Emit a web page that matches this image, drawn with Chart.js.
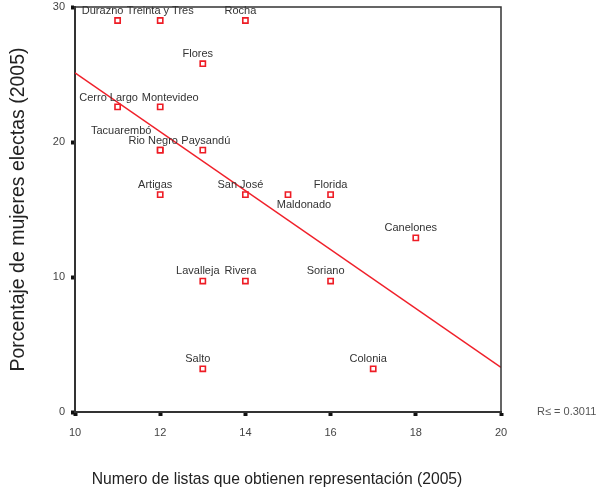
<!DOCTYPE html>
<html>
<head>
<meta charset="utf-8">
<script src="https://cdn.jsdelivr.net/npm/chart.js@4/dist/chart.umd.min.js"></script>
<style>
  body { margin: 0; background: #fff; }
  #wrap { width: 599px; height: 491px; }
</style>
</head>
<body>
<div id="wrap"><canvas id="chart" width="599" height="491"></canvas></div>
<script>
// Departamentos, listas con representación y % de mujeres electas (2005)
const departamentos = ['Durazno', 'Treinta y Tres', 'Rocha', 'Flores', 'Cerro Largo', 'Montevideo',
  'Tacuarembó', 'Rio Negro', 'Paysandú', 'Artigas', 'San José', 'Maldonado', 'Florida',
  'Canelones', 'Lavalleja', 'Rivera', 'Soriano', 'Salto', 'Colonia'];
const listas = [11, 12, 14, 13, 11, 12, 12, 12, 13, 12, 14, 15, 16, 18, 13, 14, 16, 13, 17];
const mujeres = [29.0, 29.0, 29.0, 25.8, 22.6, 22.6, 19.4, 19.4, 19.4, 16.1, 16.1, 16.1, 16.1,
  12.9, 9.7, 9.7, 9.7, 3.2, 3.2];
const xTicks = [10, 12, 14, 16, 18, 20];
const yTicks = [0, 10, 20, 30];
const rCuadrado = 'R≤ = 0.3011';

// where each label sits relative to its marker (px)
const labelOffset = {
  'Durazno': [-15, -10], 'Treinta y Tres': [0, -10], 'Cerro Largo': [-9, -9],
  'Montevideo': [10, -9], 'Tacuarembó': [-39, -19], 'Rio Negro': [-7, -9],
  'Paysandú': [3, -9], 'Maldonado': [16, 10], 'Florida': [0, -10]
};

// least squares line
const n = listas.length;
const mx = listas.reduce((a, b) => a + b, 0) / n;
const my = mujeres.reduce((a, b) => a + b, 0) / n;
let sxy = 0, sxx = 0;
listas.forEach((x, i) => { sxy += (x - mx) * (mujeres[i] - my); sxx += (x - mx) * (x - mx); });
const pendiente = sxy / sxx;
const ordenada = my - pendiente * mx;
const xMin = xTicks[0], xMax = xTicks[xTicks.length - 1];
const recta = [xMin, xMax].map(x => ({ x: x, y: ordenada + pendiente * x }));

const FONT = 'Liberation Sans, Arial, sans-serif';

const extras = {
  id: 'extras',
  afterDatasetsDraw(chart) {
    const ctx = chart.ctx;
    const a = chart.chartArea;
    ctx.save();
    // frame
    ctx.strokeStyle = '#333';
    ctx.lineWidth = 1.5;
    ctx.beginPath();
    ctx.moveTo(a.left, a.top);
    ctx.lineTo(a.right, a.top);
    ctx.lineTo(a.right, a.bottom);
    ctx.stroke();
    // point labels
    const meta = chart.getDatasetMeta(1);
    ctx.font = '11px ' + FONT;
    ctx.fillStyle = '#333';
    ctx.textAlign = 'center';
    ctx.textBaseline = 'middle';
    meta.data.forEach((pt, i) => {
      const name = departamentos[i];
      const off = labelOffset[name] || [-5, -10];
      ctx.fillText(name, pt.x + off[0], pt.y + off[1]);
    });
    // x title and R2
    ctx.font = '15.7px ' + FONT;
    ctx.fillStyle = '#222';
    ctx.fillText('Numero de listas que obtienen representación (2005)', 277, 480);
    ctx.font = '11px ' + FONT;
    ctx.fillStyle = '#555';
    ctx.textAlign = 'left';
    ctx.fillText(rCuadrado, 537, chart.scales.y.getPixelForValue(0));
    ctx.restore();
  }
};

new Chart(document.getElementById('chart'), {
  type: 'scatter',
  data: {
    datasets: [
      {
        type: 'line',
        data: recta,
        borderColor: '#f0202a',
        borderWidth: 1.5,
        pointRadius: 0,
        fill: false
      },
      {
        data: listas.map((x, i) => ({ x: x, y: mujeres[i] })),
        pointStyle: 'rect',
        pointRadius: 3.7,
        pointBorderWidth: 1.6,
        pointBorderColor: '#ee1c25',
        pointBackgroundColor: '#fff'
      }
    ]
  },
  options: {
    responsive: false,
    animation: false,
    layout: { padding: { top: 7, right: 98, left: 0, bottom: 0 } },
    plugins: { legend: { display: false }, tooltip: { enabled: false } },
    scales: {
      x: {
        type: 'linear',
        min: xMin,
        max: xMax,
        afterBuildTicks: s => { s.ticks = xTicks.map(v => ({ value: v })); },
        afterFit: s => { s.height = 79; },
        grid: { drawOnChartArea: false, tickLength: 4, tickWidth: 4, tickColor: '#111' },
        border: { color: '#333', width: 2 },
        ticks: { padding: 10, color: '#444', font: { family: FONT, size: 11 }, maxRotation: 0 }
      },
      y: {
        type: 'linear',
        min: 0,
        max: 30,
        afterBuildTicks: s => { s.ticks = yTicks.map(v => ({ value: v })); },
        afterFit: s => { s.width = 75; s.paddingTop = 0; },
        grid: { drawOnChartArea: false, tickLength: 4, tickWidth: 4, tickColor: '#111' },
        border: { color: '#333', width: 2 },
        ticks: { padding: 6, color: '#444', font: { family: FONT, size: 11 } },
        title: {
          display: true,
          text: 'Porcentaje de mujeres electas (2005)',
          color: '#222',
          font: { family: FONT, size: 19.5 },
          padding: { top: 7, bottom: 0 }
        }
      }
    }
  },
  plugins: [extras]
});
</script>
</body>
</html>
